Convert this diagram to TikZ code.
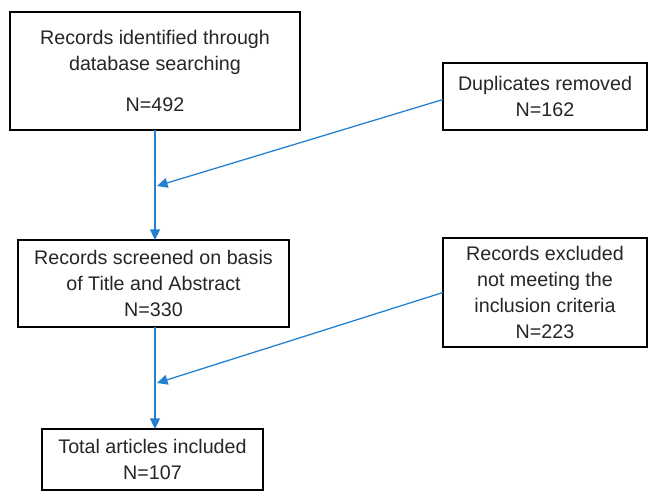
\documentclass[tikz,border=0pt]{standalone}
\usepackage{fontspec}
\setmainfont{Liberation Sans}
\usetikzlibrary{arrows.meta}
\definecolor{linkblue}{RGB}{35,128,208}
\begin{document}
\begin{tikzpicture}[
        x = 0.025cm, y = -0.025cm,
        outer sep = 0mm,
        stage/.style = {
          rectangle, draw = black, line width = 1.9pt, fill = white,
          align = center, inner sep = 0mm, text = black!85,
          font = \fontsize{14}{18.5}\selectfont,
        },
        flow/.style = {
          draw = linkblue, line width = 0.9pt,
          -{Triangle[length = 7.5pt, width = 7pt]},
        }
      ]

      \useasboundingbox (0,0) rectangle (649,492);

      % left column
      \node[stage, minimum width = 7.25cm, minimum height = 2.95cm] (ident) at (155,71)
        {Records identified through\\database searching\\[11pt]N=492};
      \node[stage, minimum width = 6.775cm, minimum height = 2.175cm] (screen) at (153.5,283.5)
        {Records screened on basis\\of Title and Abstract\\N=330};
      \node[stage, minimum width = 5.525cm, minimum height = 1.525cm] (incl) at (152.5,459.5)
        {Total articles included\\N=107};

      % right column
      \node[stage, minimum width = 5.1cm, minimum height = 1.675cm] (dupl) at (545,96.5)
        {Duplicates removed\\N=162};
      \node[stage, minimum width = 5.1cm, minimum height = 2.725cm] (excl) at (545,292.5)
        {Records excluded\\not meeting the\\inclusion criteria\\N=223};

      \coordinate (m1) at (157,186);
      \coordinate (m2) at (157,383);

      \draw[flow] (ident.south -| 155,0) to (screen.north -| 155,0);
      \draw[flow] (screen.south -| 155,0) to (incl.north -| 155,0);
      \draw[flow] (dupl.west) ++(0,3) to (m1);
      \draw[flow] (excl.west) to (m2);
    \end{tikzpicture}
\end{document}
